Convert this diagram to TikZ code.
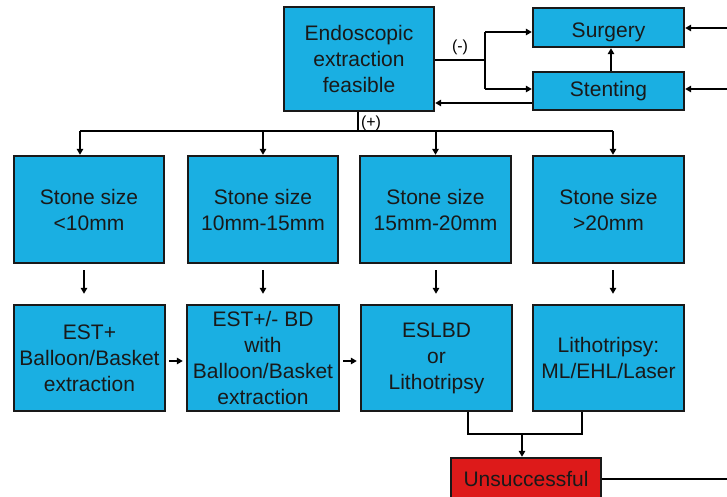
\documentclass[tikz,border=0pt]{standalone}
\usepackage{fontspec}
\setmainfont{Liberation Sans}
\usetikzlibrary{arrows.meta}
\definecolor{boxblue}{RGB}{26,175,226}
\definecolor{boxred}{RGB}{221,26,26}
\definecolor{edge}{RGB}{25,25,25}
\tikzset{
  bx/.style={draw=edge, line width=2.4pt, fill=boxblue, align=center, inner sep=0pt,
    font=\fontsize{21}{26}\selectfont, text=black!90},
  redbx/.style={bx, fill=boxred},
  lbl/.style={font=\fontsize{16}{18}\selectfont, inner sep=0pt},
  ln/.style={line width=2pt, draw=black},
  arr/.style={ln, -{Triangle[length=6pt,width=6.5pt]}},
}
\begin{document}
\begin{tikzpicture}[x=1pt,y=-1pt]
\path[use as bounding box] (0,0) rectangle (727,496);
\clip (0,0) rectangle (727,496);
\fill[white] (0,0) rectangle (727,496);
% nodes
\node[bx, minimum width=150pt, minimum height=104pt] (endo) at (359,59) {Endoscopic\\extraction\\feasible};
\node[bx, minimum width=151pt, minimum height=39pt, text height=19pt, text depth=0pt] (sur) at (608.5,27.5) {Surgery};
\node[bx, minimum width=151pt, minimum height=38pt] (sten) at (608.5,91) {Stenting};
\node[bx, minimum width=150pt, minimum height=107pt] (s1) at (89,209.5) {Stone size\\<10mm};
\node[bx, minimum width=150pt, minimum height=107pt] (s2) at (263,209.5) {Stone size\\10mm-15mm};
\node[bx, minimum width=151pt, minimum height=107pt] (s3) at (435.5,209.5) {Stone size\\15mm-20mm};
\node[bx, minimum width=151pt, minimum height=107pt] (s4) at (608.5,209.5) {Stone size\\>20mm};
\node[bx, minimum width=151pt, minimum height=106pt] (b1) at (89.5,358) {EST+\\Balloon/Basket\\extraction};
\node[bx, minimum width=152pt, minimum height=106pt] (b2) at (263,358) {EST+/- BD\\with\\Balloon/Basket\\extraction};
\node[bx, minimum width=151pt, minimum height=106pt] (b3) at (436.5,358) {ESLBD\\or\\Lithotripsy};
\node[bx, minimum width=151pt, minimum height=106pt] (b4) at (608.5,358) {Lithotripsy:\\ML/EHL/Laser};
\node[redbx, minimum width=150pt, minimum height=41pt] (uns) at (526,478.5) {Unsuccessful};
\node[lbl] (neg) at (460,47) {(-)};
\node[lbl] (pos) at (371,123) {(+)};
% negative branch
\coordinate (nb) at (485,60);
\coordinate (nbt) at (485,32);
\coordinate (nbb) at (485,89);
\coordinate (sb) at (500,103);
\draw[ln] (endo.east |- nb) -- (nb);
\draw[ln] (nbt) -- (nbb);
\draw[arr] (nbt) -- (sur.west |- nbt);
\draw[arr] (nbb) -- (sten.west |- nbb);
\draw[arr] (sten.west |- sb) -- (endo.east |- sb);
\draw[arr] ([xshift=2.5pt]sten.north) -- ([xshift=2.5pt]sur.south);
% from the right edge
\coordinate (rs) at (728,28);
\coordinate (rt) at (728,89);
\coordinate (ru) at (728,478.5);
\draw[arr] (rs) -- (sur.east |- rs);
\draw[arr] (rt) -- (sten.east |- rt);
\draw[ln] (uns.east) -- (ru);
% positive branch
\coordinate (bus) at (358,131);
\coordinate (busl) at (80,131);
\coordinate (busr) at (613,131);
\draw[ln] ([xshift=-1pt]endo.south) -- (bus);
\draw[ln] (busl) -- (busr);
\draw[arr] (busl) -- (busl |- s1.north);
\draw[arr] (s2.north |- bus) -- (s2.north);
\draw[arr] (s3.north |- bus) -- (s3.north);
\draw[arr] (busr) -- (busr |- s4.north);
% stone to treatment
\draw[arr] ([xshift=-5pt,yshift=-6pt]s1.south) -- ([xshift=-5.5pt,yshift=10pt]b1.north);
\draw[arr] ([yshift=-6pt]s2.south) -- ([yshift=10pt]b2.north);
\draw[arr] ([xshift=0.5pt,yshift=-6pt]s3.south) -- ([xshift=-0.5pt,yshift=10pt]b3.north);
\draw[arr] ([xshift=4.5pt,yshift=-6pt]s4.south) -- ([xshift=4.5pt,yshift=10pt]b4.north);
% treatment chain
\draw[arr] ([xshift=3pt,yshift=-3pt]b1.east) -- ([xshift=-3pt,yshift=-3pt]b2.west);
\draw[arr] ([xshift=3pt,yshift=-3pt]b2.east) -- ([xshift=-3pt,yshift=-3pt]b3.west);
% to unsuccessful
\coordinate (j) at (522,434);
\draw[ln] ([xshift=31.5pt]b3.south) -- ([xshift=31.5pt]b3.south |- j) -- ([xshift=-26.5pt]b4.south |- j) -- ([xshift=-26.5pt]b4.south);
\draw[arr] (j) -- (j |- uns.north);
\end{tikzpicture}
\end{document}
